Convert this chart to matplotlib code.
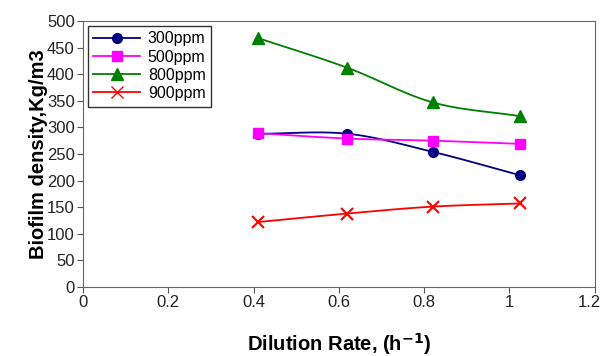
import numpy as np
import matplotlib.pyplot as plt
import matplotlib.transforms as mtransforms

# dilution rate (1/h)
D = [0.41, 0.62, 0.82, 1.025]

ppm300 = [288, 288, 254, 210]
ppm500 = [289, 279, 275, 269]
ppm800 = [468, 412, 347, 321]
ppm900 = [122, 138, 151, 157]

labels = ['300ppm', '500ppm', '800ppm', '900ppm']


def smooth(x, y, n=30):
    # catmull-rom style smoothing like excel's "smoothed line"
    x = np.asarray(x, float)
    y = np.asarray(y, float)
    px = np.concatenate([[2 * x[0] - x[1]], x, [2 * x[-1] - x[-2]]])
    py = np.concatenate([[2 * y[0] - y[1]], y, [2 * y[-1] - y[-2]]])
    xs, ys = [], []
    t = np.linspace(0, 1, n)
    for i in range(1, len(px) - 2):
        for p, out in ((px, xs), (py, ys)):
            p0, p1, p2, p3 = p[i - 1], p[i], p[i + 1], p[i + 2]
            out.extend(0.5 * ((2 * p1) + (-p0 + p2) * t
                              + (2 * p0 - 5 * p1 + 4 * p2 - p3) * t ** 2
                              + (-p0 + 3 * p1 - 3 * p2 + p3) * t ** 3))
    return xs, ys


plt.rcParams['font.family'] = ['Liberation Sans', 'DejaVu Sans']

fig = plt.figure(figsize=(6.02, 3.56), dpi=100)
ax = fig.add_axes([0.138, 0.194, 0.850, 0.747])

series = [ppm300, ppm500, ppm800, ppm900]
colors = ['#000080', '#ff00ff', '#008000', '#ff0000']
markers = ['o', 's', '^', 'x']
sizes = [7, 7, 8, 8]

for yv, c, m, s, lab in zip(series, colors, markers, sizes, labels):
    sx, sy = smooth(D, yv)
    ax.plot(sx, sy, color=c, lw=1.3)
    ax.plot(D, yv, ls='none', marker=m, color=c, ms=s, mew=1.5 if m == 'x' else 1)
    ax.plot([], [], color=c, lw=1.3, marker=m, ms=s, label=lab)

ax.set_xlim(0, 1.2)
ax.set_ylim(0, 500)
ax.set_xticks([0, 0.2, 0.4, 0.6, 0.8, 1.0, 1.2])
ax.set_xticklabels(['0', '0.2', '0.4', '0.6', '0.8', '1', '1.2'])
ax.set_yticks(range(0, 501, 50))
ax.tick_params(labelsize=12, direction='out', length=4, color='#555555', pad=2,
               labelcolor='#222222')
for sp in ax.spines.values():
    sp.set_color('#666666')

# keep the last x tick label inside the canvas
last = ax.get_xticklabels()[-1]
last.set_transform(last.get_transform() + mtransforms.ScaledTranslation(-5 / 100, 0, fig.dpi_scale_trans))

ax.set_xlabel('Dilution Rate, (h$^{\\mathbf{-1}}$)', fontsize=14.5, fontweight='bold', labelpad=15)
ax.set_ylabel('Biofilm density,Kg/m3', fontsize=14.5, fontweight='bold', labelpad=-1)

leg = ax.legend(loc='upper left', fontsize=11.5, frameon=True, fancybox=False,
                edgecolor='black', handlelength=2.9, borderaxespad=0.3,
                labelspacing=0.2, handletextpad=0.5, borderpad=0.35)
leg.get_frame().set_linewidth(1.0)

fig.savefig('out.png', dpi=100)
